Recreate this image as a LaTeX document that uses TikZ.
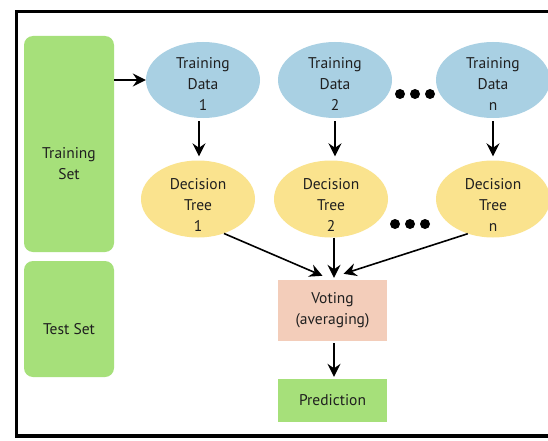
\documentclass[tikz,border=0pt]{standalone}
\usepackage{fontspec}
\setmainfont{PT Sans}
\usetikzlibrary{shapes.geometric,arrows.meta,calc}
\definecolor{tdblue}{HTML}{A9D0E3}
\definecolor{dtyellow}{HTML}{FAE38E}
\definecolor{setgreen}{HTML}{A6E07A}
\definecolor{votesalmon}{HTML}{F3CDBA}
\definecolor{txtcol}{HTML}{1F1F1F}
\begin{document}
\begin{tikzpicture}[x=1pt,y=-1pt,
  txt/.style={font=\fontsize{15.5}{21}\selectfont, text=txtcol, align=center},
  tdata/.style={ellipse, fill=tdblue, minimum width=114pt, minimum height=76pt, inner sep=0pt},
  dtree/.style={ellipse, fill=dtyellow, minimum width=114pt, minimum height=77pt, inner sep=0pt},
  setbox/.style={rectangle, rounded corners=9pt, fill=setgreen, minimum width=90pt, inner sep=0pt},
  arr/.style={line width=1.6pt, -{Stealth[length=13pt,width=13pt,inset=4.5pt]}},
  dotmark/.style={circle, fill=black, minimum size=10pt, inner sep=0pt}
]
\clip (0,0) rectangle (548,441);
\fill[white] (0,0) rectangle (548,441);
% frame
\draw[line width=3.5pt] (16.5,11.5) rectangle (570,436);

% left boxes
\node[setbox, minimum height=216pt, label={[txt,yshift=-20pt]center:Training\\Set}] (tset) at (69,144) {};
\node[setbox, minimum height=116pt, label={[txt,yshift=-10pt]center:Test Set}] (test) at (69,319) {};

% training data
\node[tdata, label={[txt,yshift=-4pt]center:Training\\Data\\1}] (td1) at (203,80) {};
\node[tdata, label={[txt,yshift=-4pt]center:Training\\Data\\2}] (td2) at (335,80) {};
\node[tdata, label={[txt,yshift=-4pt]center:Training\\Data\\n}] (tdn) at (493,80) {};

% decision trees
\node[dtree, label={[txt,yshift=-6pt]center:Decision\\Tree\\1}] (dt1) at (198,199) {};
\node[dtree, label={[txt,yshift=-6pt]center:Decision\\Tree\\2}] (dt2) at (331,199) {};
\node[dtree, label={[txt,yshift=-6pt]center:Decision\\Tree\\n}] (dtn) at (493,199) {};

% dots
\node[dotmark] (d1) at (400,94) {};
\node[dotmark] (d2) at (415,94) {};
\node[dotmark] (d3) at (430,94) {};
\node[dotmark] (e1) at (395,224) {};
\node[dotmark] (e2) at (410,224) {};
\node[dotmark] (e3) at (425,224) {};

% voting and prediction
\node[rectangle, fill=votesalmon, minimum width=109pt, minimum height=61pt, inner sep=0pt, txt] (vote) at (332.5,310.5) {Voting\\(averaging)};
\node[rectangle, fill=setgreen, minimum width=109pt, minimum height=43pt, inner sep=0pt, txt] (pred) at (332.5,400.5) {Prediction};

% arrows
\draw[arr] (tset.east |- td1.west) -- (td1.west);
\draw[arr, shorten <=3pt, shorten >=4pt] ($(td1.south)+(-4,0)$) -- ($(td1.south |- dt1.north)+(-4,0)$);
\draw[arr, shorten <=3pt, shorten >=4pt] (td2.south) -- (td2.south |- dt2.north);
\draw[arr, shorten <=3pt, shorten >=4pt] (tdn.south) -- (tdn.south |- dtn.north);

\coordinate (v1) at ($(vote.north)+(-10,-4)$);
\coordinate (v2) at ($(vote.north)+(1.5,-2)$);
\coordinate (v3) at ($(vote.north)+(11,-6)$);
\draw[arr] (dt1.-53) -- (v1);
\draw[arr] (dt2.south -| v2) -- (v2);
\draw[arr] (dtn.-126) -- (v3);
\draw[arr, shorten <=2pt, shorten >=2pt] ($(vote.south)+(1.5,0)$) -- ($(pred.north)+(1.5,0)$);
\end{tikzpicture}
\end{document}
